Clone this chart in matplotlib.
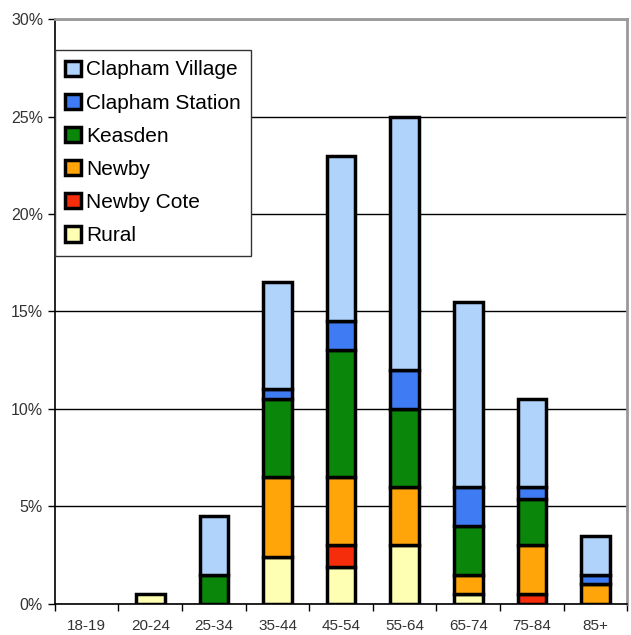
import matplotlib
matplotlib.use("Agg")
from matplotlib import pyplot as plt
import numpy as np

plt.rcParams['font.family'] = ['Liberation Sans', 'DejaVu Sans']

ages = ['18-19', '20-24', '25-34', '35-44', '45-54', '55-64', '65-74', '75-84', '85+']
rural = [0, 0.5, 0, 2.4, 1.9, 3.0, 0.5, 0, 0]
newby_cote = [0, 0, 0, 0, 1.1, 0, 0, 0.5, 0]
newby = [0, 0, 0, 4.1, 3.5, 3.0, 1.0, 2.5, 1.0]
keasden = [0, 0, 1.5, 4.0, 6.5, 4.0, 2.5, 2.4, 0]
clapham_station = [0, 0, 0, 0.5, 1.5, 2.0, 2.0, 0.6, 0.5]
clapham_village = [0, 0, 3.0, 5.5, 8.5, 13.0, 9.5, 4.5, 2.0]

series = [
    ('Rural', rural, '#FFFFB4'),
    ('Newby Cote', newby_cote, '#F52D0A'),
    ('Newby', newby, '#FFA50A'),
    ('Keasden', keasden, '#0A870A'),
    ('Clapham Station', clapham_station, '#3F7BF2'),
    ('Clapham Village', clapham_village, '#AFD3FA'),
]

fig = plt.figure(figsize=(6.31, 6.35), dpi=100)
ax = fig.add_axes([0.087, 0.049, 0.907, 0.921])

x = np.arange(len(ages))
bottom = np.zeros(len(ages))
handles = {}
for name, vals, col in series:
    vals = np.array(vals)
    mask = vals > 0
    b = ax.bar(x[mask], vals[mask], bottom=bottom[mask], width=0.45, color=col,
               edgecolor='black', linewidth=2.5, label=name, zorder=3)
    handles[name] = b
    bottom += vals

ax.set_xlim(-0.5, len(ages) - 0.5)
ax.set_ylim(0, 30)
ax.set_yticks(range(0, 31, 5))
ax.set_yticklabels([f'{v}%' for v in range(0, 31, 5)], fontsize=11.5, color='#333333')
ax.set_xticks(x)
ax.set_xticklabels(ages, fontsize=11, color='#333333')
ax.set_xticks(np.arange(-0.5, len(ages), 1), minor=True)
ax.tick_params(axis='x', which='major', length=0, pad=11)
ax.tick_params(axis='x', which='minor', length=5, width=1, color='black')
ax.tick_params(axis='y', length=5, width=1, color='black')
ax.grid(axis='y', color='black', linewidth=1, zorder=1)

for s in ['top', 'right']:
    ax.spines[s].set_color('#999999')
    ax.spines[s].set_linewidth(2)
for s in ['left', 'bottom']:
    ax.spines[s].set_color('black')
    ax.spines[s].set_linewidth(1.2)

order = ['Clapham Village', 'Clapham Station', 'Keasden', 'Newby', 'Newby Cote', 'Rural']
leg = ax.legend([handles[n] for n in order], order, loc='upper left',
                bbox_to_anchor=(0.0, 0.947), borderaxespad=0, fontsize=15,
                fancybox=False, framealpha=1, edgecolor='#333333',
                handlelength=0.75, handleheight=0.75, handletextpad=0.25,
                labelspacing=0.68, borderpad=0.5)
leg.get_frame().set_linewidth(1)
leg.set_zorder(5)

plt.savefig('out.png', dpi=100)
